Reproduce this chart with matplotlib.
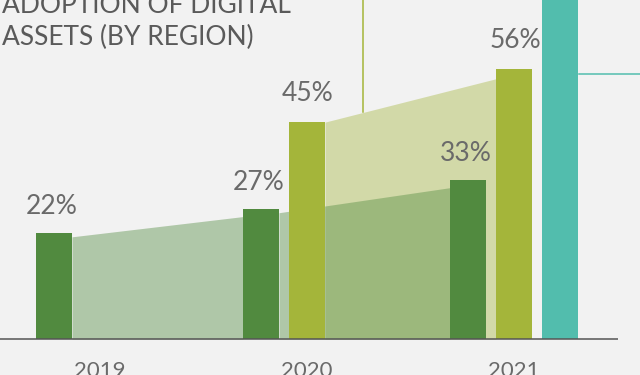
import matplotlib
matplotlib.use("Agg")
import matplotlib.pyplot as plt
import numpy as np

years = ["2019", "2020", "2021"]
region_a = [22, 27, 33]          # dark green
region_b = [np.nan, 45, 56]      # olive
region_c = [np.nan, np.nan, 76]  # teal (extends past top of crop)
labels_a = ["22%", "27%", "33%"]
labels_b = ["", "45%", "56%"]
title_lines = ["ADOPTION OF DIGITAL", "ASSETS (BY REGION)"]

C_A = "#518a3f"
C_B = "#a4b53a"
C_C = "#52bdad"
BG = "#f2f2f2"
TXT = "#6a6a6a"

W, H = 640, 375
fig = plt.figure(figsize=(W / 100, H / 100), dpi=100, facecolor=BG)
ax = fig.add_axes([0, 0, 1, 1])
ax.set_facecolor(BG)

# pixel mapping: x_px = 100 + 207*x ; y_px = 339 - 4.82*v
ax.set_xlim(-100 / 207, (W - 100) / 207)
ax.set_ylim(-(H - 339) / 4.82, 339 / 4.82)
ax.axis("off")

x = np.arange(len(years))
bw = 36 / 207
off = 46 / 207

pos_a = x - off
pos_b = x
pos_c = x + off

# shaded connecting areas
def band(pos, vals, color, d0, d1, alpha):
    for i in range(len(vals) - 1):
        v0, v1 = vals[i], vals[i + 1]
        if np.isnan(v0) or np.isnan(v1):
            continue
        xs = [pos[i] + bw / 2, pos[i + 1] - bw / 2]
        ys = [v0 - d0, v1 - d1]
        ax.fill_between(xs, [0, 0], ys, color=color, alpha=alpha, lw=0, zorder=1)

band(pos_b, region_b, C_B, 0.0, 2.0, 0.40)
band(pos_a, region_a, C_A, 0.8, 1.6, 0.41)

ax.bar(pos_a, region_a, width=bw, color=C_A, zorder=3)
ax.bar(pos_b, region_b, width=bw, color=C_B, zorder=3)
ax.bar(pos_c, region_c, width=bw, color=C_C, zorder=3)

pfont = dict(family="Lato", weight="normal", fontsize=19, color=TXT)
for p, v, t in zip(pos_a, region_a, labels_a):
    ax.text(p - 0.01, v + 3.9, t, ha="center", va="baseline", zorder=4, **pfont)
for p, v, t in zip(pos_b, region_b, labels_b):
    if t:
        ax.text(p + 0.005, v + 4.3, t, ha="center", va="baseline", zorder=4, **pfont)

# baseline
ax.plot([-100 / 207, (618 - 100) / 207], [0, 0], color="#555555", lw=1.1, zorder=5,
        solid_capstyle="butt")

# year labels
for xi, yr in zip(x, years):
    ax.text(xi, -4.6, yr, ha="center", va="top", family="Lato", weight="normal",
            fontsize=16, color=TXT)

# callout leader lines
ax.plot([(363 - 100) / 207] * 2, [(339 - 112) / 4.82, 80], color=C_B, lw=1.1, zorder=2)
ax.plot([(579 - 100) / 207, (W - 100) / 207], [(339 - 74) / 4.82] * 2, color=C_C, lw=1.1,
        zorder=2)

# title
fig.text(2 / W, 1 - 13 / H, title_lines[0], ha="left", va="baseline", family="Lato",
         fontsize=19, color="#5a5a5a")
fig.text(2 / W, 1 - 45 / H, title_lines[1], ha="left", va="baseline", family="Lato",
         fontsize=19, color="#5a5a5a")

fig.savefig("out.png", dpi=100, facecolor=BG)
